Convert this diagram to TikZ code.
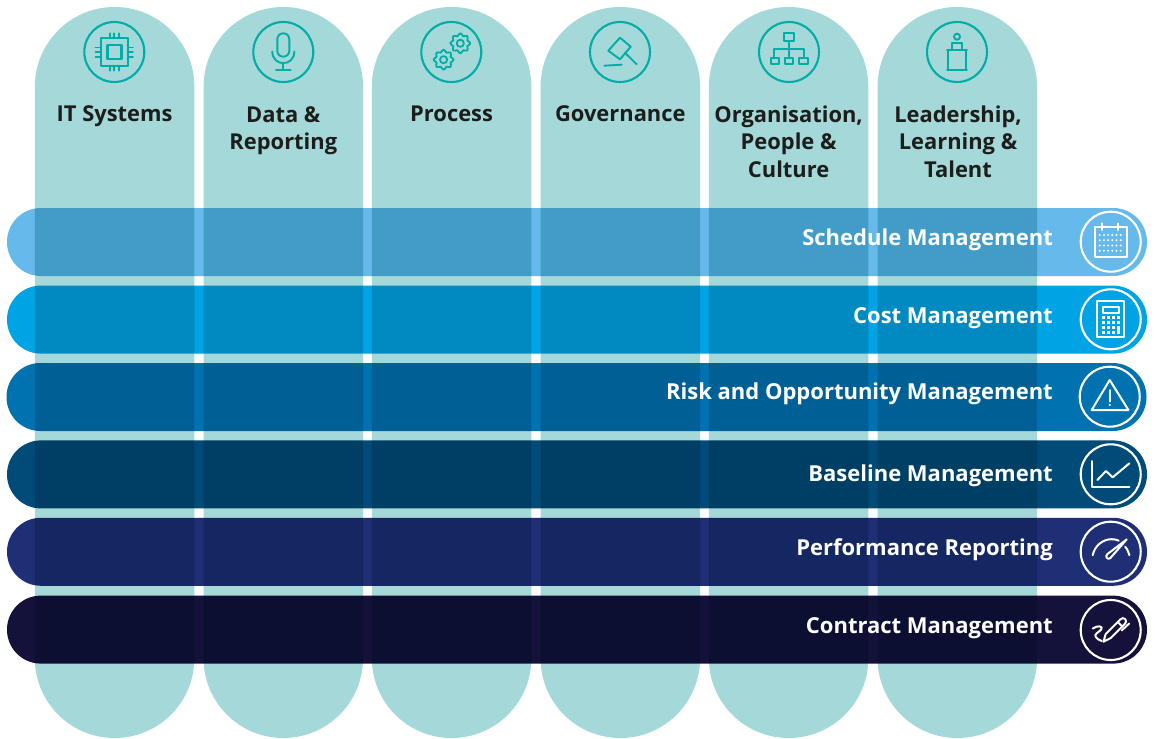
\documentclass[tikz,border=0pt]{standalone}
\usepackage{fontspec}
\setmainfont{Open Sans}
\definecolor{pillteal}{HTML}{A5D8D8}
\definecolor{iconteal}{HTML}{00ADA7}
\definecolor{labeldark}{HTML}{1D1D1B}
\definecolor{barA}{HTML}{66B9EB}
\definecolor{barB}{HTML}{00A3E4}
\definecolor{barC}{HTML}{0072B0}
\definecolor{barD}{HTML}{004B78}
\definecolor{barE}{HTML}{1F2F75}
\definecolor{barF}{HTML}{14123B}
\tikzset{
  colpill/.style={fill=pillteal,inner sep=0pt,minimum width=159.5pt,minimum height=731pt,rounded corners=79.7pt},
  barpill/.style={fill=#1,inner sep=0pt,minimum width=1140pt,minimum height=68pt,rounded corners=33.9pt},
  collabel/.style={font=\bfseries\fontsize{21.9}{27.4}\selectfont,text=labeldark,align=center,anchor=base,inner sep=0pt},
  barlabel/.style={font=\bfseries\fontsize{22}{27}\selectfont,text=white,anchor=base east,inner sep=0pt},
  tealicon/.style={draw=iconteal,line width=1.9pt,line cap=round,line join=round},
  whiteicon/.style={draw=white,line width=2pt,line cap=round,line join=round},
  ring/.style={circle,inner sep=0pt,minimum size=60pt,line width=2.1pt,draw=#1},
}
\newcommand{\gearshape}[2]{%
  \draw[shift={(#1,#2)},line width=1.8pt] plot[smooth cycle,samples=32,domain=0:348.75] (\x:{8.8+1.3*cos(8*\x)});
  \draw[shift={(#1,#2)},line width=1.8pt] (0,0) circle (3.6pt);}
\begin{document}
\begin{tikzpicture}[x=1pt,y=-1pt]
\useasboundingbox (0,0) rectangle (1155,738);
% columns
\node[colpill] (colA) at (114.6,372.5) {};
\node[colpill] (colB) at (283.3,372.5) {};
\node[colpill] (colC) at (451.6,372.5) {};
\node[colpill] (colD) at (620.3,372.5) {};
\node[colpill] (colE) at (788.6,372.5) {};
\node[colpill] (colF) at (957.3,372.5) {};
% column labels
\node[collabel] (labA) at (114.6,122) {IT Systems};
\node[collabel] (labB) at (283.3,149.5) {Data \&\\Reporting};
\node[collabel] (labC) at (451.6,122) {Process};
\node[collabel] (labD) at (620.3,122) {Governance};
\node[collabel] (labE) at (788.6,177) {Organisation,\\People \&\\Culture};
\node[collabel] (labF) at (958,177) {Leadership,\\Learning \&\\Talent};
% bars
\begin{scope}[blend mode=multiply]
\node[barpill=barA] (barA) at (577,242) {};
\node[barpill=barB] (barB) at (577,319.6) {};
\node[barpill=barC] (barC) at (576.5,397) {};
\node[barpill=barD] (barD) at (577,474.4) {};
\node[barpill=barE] (barE) at (577,551.8) {};
\node[barpill=barF] (barF) at (577,629.6) {};
\end{scope}
% bar labels
\node[barlabel] (txtA) at (1053,245) {Schedule Management};
\node[barlabel] (txtB) at (1053,323) {Cost Management};
\node[barlabel] (txtC) at (1053,399) {Risk and Opportunity Management};
\node[barlabel] (txtD) at (1053,481) {Baseline Management};
\node[barlabel] (txtE) at (1053,555) {Performance Reporting};
\node[barlabel] (txtF) at (1053,633) {Contract Management};
% top rings
\node[ring=iconteal] (ringA) at (114.3,52) {};
\node[ring=iconteal] (ringB) at (283.3,52) {};
\node[ring=iconteal] (ringC) at (451.3,52) {};
\node[ring=iconteal] (ringD) at (620,52) {};
\node[ring=iconteal] (ringE) at (789,52) {};
\node[ring=iconteal] (ringF) at (957,52) {};
% side rings
\node[ring=white] (ringG) at (1110.7,241.7) {};
\node[ring=white] (ringH) at (1110.7,319.3) {};
\node[ring=white] (ringI) at (1109.7,396.7) {};
\node[ring=white] (ringJ) at (1110.7,474.3) {};
\node[ring=white] (ringK) at (1110.7,551.7) {};
\node[ring=white] (ringL) at (1110.7,630) {};
% chip
\begin{scope}[shift={(ringA.center)},every path/.append style={tealicon}]
\draw (-13.7,-13.7) rectangle (13.7,13.7);
\draw[line width=2.4pt] (-7,-7) rectangle (7,7);
\foreach \p in {-4.5,0,4.8}{
  \draw (\p,-18.7) -- (\p,-13.7);
  \draw (\p,18.7) -- (\p,13.7);
  \draw (-18.7,\p) -- (-13.7,\p);
  \draw (18.7,\p) -- (13.7,\p);
}
\end{scope}
% mic
\begin{scope}[shift={(ringB.center)},every path/.append style={tealicon}]
\draw[rounded corners=5.9pt] (-6,-18.7) rectangle (6,4.7);
\draw (-11,-0.5) .. controls (-11,15) and (11,15) .. (11,-0.5);
\draw (0,11) -- (0,18);
\draw (-7.3,18) -- (7.3,18);
\end{scope}
% gears
\begin{scope}[shift={(ringC.center)},every path/.append style={tealicon}]
\gearshape{9}{-8.7}
\gearshape{-7.7}{7.7}
\end{scope}
% gavel
\begin{scope}[shift={(ringD.center)},every path/.append style={tealicon}]
\draw (0,-14.3) -- (10.7,-5.3) -- (0,7.3) -- (-11.7,-1.3) -- cycle;
\draw (5,0.7) -- (16.7,12.3);
\draw (-15.7,13.7) -- (1.7,12.7);
\end{scope}
% org chart
\begin{scope}[shift={(ringE.center)},every path/.append style={tealicon}]
\draw (-4.7,-18.7) rectangle (4.7,-11.3);
\draw (0,-11.3) -- (0,-3);
\draw (-15,6.3) -- (-15,-3) -- (14.7,-3) -- (14.7,6.3);
\draw (0,-3) -- (0,6.3);
\draw (-18.3,6.3) rectangle (-10.3,12);
\draw (-4.3,6.3) rectangle (4.3,12);
\draw (10,6.3) rectangle (18.7,12);
\end{scope}
% podium
\begin{scope}[shift={(ringF.center)},every path/.append style={tealicon}]
\draw (0,-15.3) circle (3pt);
\draw (-4.7,-2) -- (-4.7,-8.7) -- (4.7,-8.7) -- (4.7,-2);
\draw (-10,-2) -- (10,-2);
\draw (-8.7,-2) -- (-8.7,18);
\draw (8.7,-2) -- (8.7,18);
\draw (-10,18) -- (10,18);
\end{scope}
% calendar
\begin{scope}[shift={(ringG.center)},every path/.append style={whiteicon}]
\draw (-15.7,-15) rectangle (16,15.7);
\draw (-8.3,-18.3) -- (-8.3,-11.7);
\draw (7.7,-18.3) -- (7.7,-11.7);
\foreach \r in {-6.7,-1.5,3.8,9}{
  \foreach \c in {-11,-6.8,-2.6,1.6,5.8,10}{
    \fill[white,draw=none] (\c,\r) circle (1.1pt);
  }
}
\end{scope}
% calculator
\begin{scope}[shift={(ringH.center)},every path/.append style={whiteicon}]
\draw (-13.3,-18.3) rectangle (13.3,18);
\draw (-7.3,-12.7) rectangle (8.7,-6.7);
\foreach \r in {-2,3,8,13}{
  \foreach \c in {-7.3,-2.3,2.7}{
    \fill[white,draw=none] (\c-1.3,\r-1.3) rectangle (\c+1.3,\r+1.3);
  }
}
\fill[white,draw=none] (6.5,-3.3) rectangle (9,-0.7);
\fill[white,draw=none] (6.5,1.7) rectangle (9,4.3);
\fill[white,draw=none] (6.5,6.7) rectangle (9,14.3);
\end{scope}
% warning
\begin{scope}[shift={(ringI.center)},every path/.append style={whiteicon}]
\draw (0,-16.7) -- (18.7,13.3) -- (-18,13.3) -- cycle;
\draw (0,-6.7) -- (0,5);
\fill[white,draw=none] (0,8.2) circle (1.2pt);
\end{scope}
% line chart
\begin{scope}[shift={(ringJ.center)},every path/.append style={whiteicon}]
\draw (-18.3,-13.3) -- (-18.3,13) -- (18.7,13);
\draw (-13.3,5.7) -- (-4.7,-3.3) -- (2,3) -- (18.7,-11);
\end{scope}
% gauge
\begin{scope}[shift={(ringK.center)},every path/.append style={whiteicon}]
\draw (-18,3.5) .. controls (-16,-6) and (-8,-12.5) .. (1,-12.5) .. controls (4,-12.5) and (6,-12) .. (8,-11);
\draw (14.5,-5) .. controls (17,-2) and (18,1) .. (18.7,3.5);
\draw (16,-12.3) -- (-3.5,2.5) .. controls (-6,5) and (-3,8.5) .. (-0.5,6.5) -- cycle;
\end{scope}
% pen
\begin{scope}[shift={(ringL.center)},every path/.append style={whiteicon}]
\draw (-7.3,11.7) -- (-5,4) -- (9.5,-10.5) .. controls (11,-12) and (13,-12.5) .. (14.5,-11) .. controls (16,-9.5) and (15.5,-7.5) .. (14,-6) -- (0,8) -- cycle;
\draw (7,-8) -- (11.5,-3.5);
\draw (11,0.5) -- (18.5,-6.5);
\draw (-18,-1.5) .. controls (-13,-5) and (-7,-4) .. (-9.5,-0.5) .. controls (-12,2.5) and (-17,4) .. (-15,7) .. controls (-14,8.5) and (-12,10) .. (-9,11);
\end{scope}
\end{tikzpicture}
\end{document}
